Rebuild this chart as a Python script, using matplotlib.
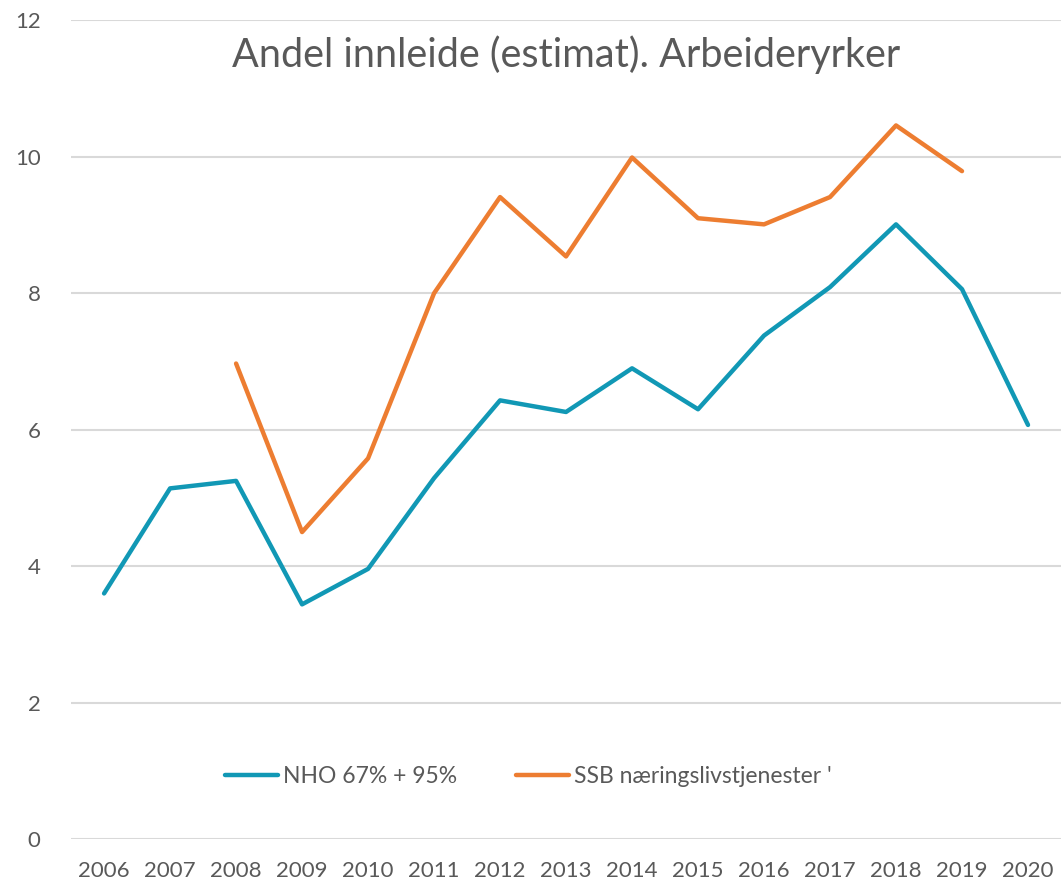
import matplotlib
matplotlib.use('Agg')
import matplotlib.pyplot as plt
import numpy as np

# Verdier lest av figuren
years = np.arange(2006, 2021)
nho = [3.60, 5.14, 5.25, 3.44, 3.96, 5.29, 6.43, 6.26, 6.90, 6.30, 7.38, 8.09, 9.01, 8.06, 6.07]
ssb_years = np.arange(2008, 2020)
ssb = [6.97, 4.50, 5.58, 8.00, 9.41, 8.54, 9.99, 9.10, 9.01, 9.41, 10.46, 9.79]

title = 'Andel innleide (estimat). Arbeideryrker'
labels = ['NHO 67% + 95%', "SSB næringslivstjenester '"]

plt.rcParams['font.family'] = ['Lato', 'DejaVu Sans']
txt = '#595959'

fig = plt.figure(figsize=(10.61, 8.86), dpi=100)
ax = fig.add_axes([0.067, 0.053, 0.933, 0.924])

ax.plot(years, nho, color='#1198B5', linewidth=3.2, label=labels[0], solid_capstyle='round')
ax.plot(ssb_years, ssb, color='#ED7D31', linewidth=3.2, label=labels[1], solid_capstyle='round')

ax.set_xlim(2005.5, 2020.5)
ax.set_ylim(0, 12)
ax.set_yticks(range(0, 13, 2))
ax.set_xticks(years)
ax.grid(axis='y', color='#D9D9D9', linewidth=1.5)
ax.set_axisbelow(True)
for s in ax.spines.values():
    s.set_visible(False)
ax.tick_params(length=0, labelsize=16, colors=txt)
ax.tick_params(axis='x', pad=16)
ax.tick_params(axis='y', pad=22)

ax.text(0.5, 0.958, title, transform=ax.transAxes, ha='center', va='center',
        fontsize=28.5, color=txt)

leg = ax.legend(loc='center', bbox_to_anchor=(0.462, 0.076), ncol=2, frameon=False,
                fontsize=16.5, handlelength=2.3, columnspacing=2.6, handletextpad=0.2,
                labelcolor=txt)

fig.savefig('out.png', dpi=100)
